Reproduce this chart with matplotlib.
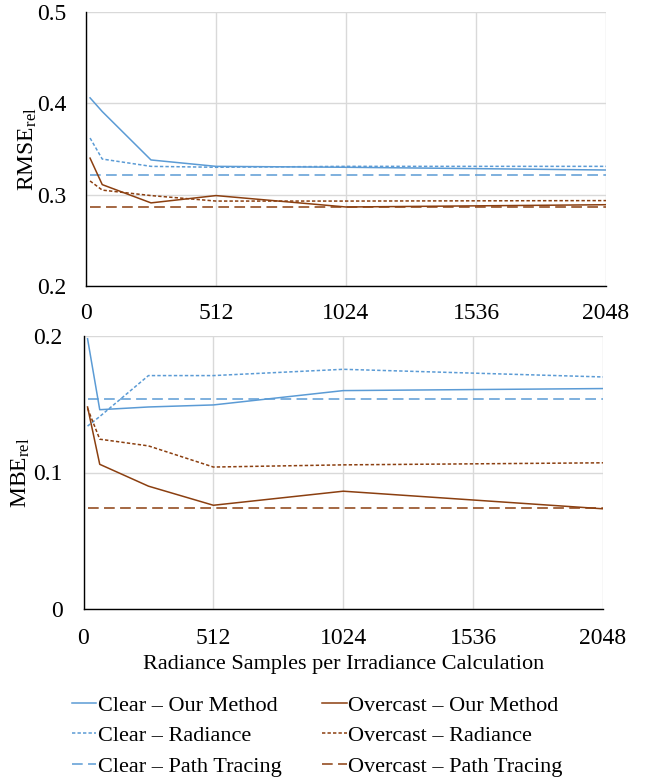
import numpy as np
import matplotlib.pyplot as plt

plt.rcParams['font.family'] = ['Liberation Serif', 'DejaVu Serif']
plt.rcParams['mathtext.fontset'] = 'custom'
plt.rcParams['mathtext.rm'] = 'Liberation Serif'
plt.rcParams['mathtext.it'] = 'Liberation Serif:italic'

samples = [16, 64, 256, 512, 1024, 2048]

rmse_clear_ours = [0.406, 0.391, 0.338, 0.331, 0.330, 0.327]
rmse_clear_rad = [0.362, 0.339, 0.331, 0.330, 0.331, 0.331]
rmse_clear_pt = [0.322, 0.322, 0.322, 0.322, 0.322, 0.322]
rmse_over_ours = [0.340, 0.311, 0.291, 0.299, 0.2865, 0.289]
rmse_over_rad = [0.315, 0.305, 0.299, 0.293, 0.293, 0.2935]
rmse_over_pt = [0.286, 0.286, 0.286, 0.286, 0.286, 0.286]

mbe_clear_ours = [0.198, 0.146, 0.148, 0.1495, 0.160, 0.1615]
mbe_clear_rad = [0.134, 0.141, 0.171, 0.171, 0.1756, 0.170]
mbe_clear_pt = [0.154, 0.154, 0.154, 0.154, 0.154, 0.154]
mbe_over_ours = [0.148, 0.106, 0.090, 0.076, 0.0863, 0.0734]
mbe_over_rad = [0.147, 0.1244, 0.1195, 0.104, 0.1056, 0.1071]
mbe_over_pt = [0.0741, 0.0741, 0.0741, 0.0741, 0.0741, 0.0741]

xticks = [0, 512, 1024, 1536, 2048]

blue = '#5B9BD5'
brown = '#8B3F10'
solid = '-'
dotted = (0, (2.2, 1.4))
dashed = (0, (7, 3.5))
lw = 1.1

fig = plt.figure(figsize=(6.45, 7.8), dpi=100)
ax1 = fig.add_axes([86 / 645, 1 - 286 / 780, 520 / 645, 274 / 780])
ax2 = fig.add_axes([83.5 / 645, 1 - 609 / 780, 519.5 / 645, 273 / 780])


def style(ax, yticks, ylabels, xpad, ypad):
    ax.set_xlim(0, 2048)
    ax.set_xticks(xticks)
    ax.set_ylim(yticks[0], yticks[-1])
    ax.set_yticks(yticks)
    ax.set_yticklabels(ylabels)
    ax.grid(True, color='#D9D9D9', lw=1.0)
    ax.set_axisbelow(True)
    for s in ['top', 'right']:
        ax.spines[s].set_visible(False)
    for s in ['left', 'bottom']:
        ax.spines[s].set_color('black')
        ax.spines[s].set_linewidth(1.0)
    ax.tick_params(length=0, labelsize=17)
    ax.tick_params(axis='y', pad=ypad)
    ax.tick_params(axis='x', pad=xpad)


ax1.plot(samples, rmse_clear_ours, color=blue, ls=solid, lw=lw)
ax1.plot(samples, rmse_clear_rad, color=blue, ls=dotted, lw=lw)
ax1.plot(samples, rmse_clear_pt, color=blue, ls=dashed, lw=lw)
ax1.plot(samples, rmse_over_ours, color=brown, ls=solid, lw=lw)
ax1.plot(samples, rmse_over_rad, color=brown, ls=dotted, lw=lw)
ax1.plot(samples, rmse_over_pt, color=brown, ls=dashed, lw=lw)
style(ax1, [0.2, 0.3, 0.4, 0.5], ['0.2', '0.3', '0.4', '0.5'], 12, 14)
ax1.set_ylabel(r'RMSE$_{\mathrm{rel}}$', fontsize=17, labelpad=-1)

ax2.plot(samples, mbe_clear_ours, color=blue, ls=solid, lw=lw, label='Clear – Our Method')
ax2.plot(samples, mbe_clear_rad, color=blue, ls=dotted, lw=lw, label='Clear – Radiance')
ax2.plot(samples, mbe_clear_pt, color=blue, ls=dashed, lw=lw, label='Clear – Path Tracing')
ax2.plot(samples, mbe_over_ours, color=brown, ls=solid, lw=lw, label='Overcast – Our Method')
ax2.plot(samples, mbe_over_rad, color=brown, ls=dotted, lw=lw, label='Overcast – Radiance')
ax2.plot(samples, mbe_over_pt, color=brown, ls=dashed, lw=lw, label='Overcast – Path Tracing')
style(ax2, [0, 0.1, 0.2], ['0', '0.1', '0.2'], 13.5, 15)
ax2.set_ylabel(r'MBE$_{\mathrm{rel}}$', fontsize=17, labelpad=1)

fig.text(344 / 645, 1 - 665 / 780, 'Radiance Samples per Irradiance Calculation',
         ha='center', va='center', fontsize=16)

handles, labels = ax2.get_legend_handles_labels()
fig.legend(handles, labels, ncol=2, loc='upper left',
           bbox_to_anchor=(72 / 645, 1 - 695 / 780), frameon=False,
           fontsize=16, handlelength=1.1, handletextpad=0.05,
           columnspacing=1.85, labelspacing=0.45, borderpad=0, borderaxespad=0)

fig.savefig('out.png', dpi=100)
